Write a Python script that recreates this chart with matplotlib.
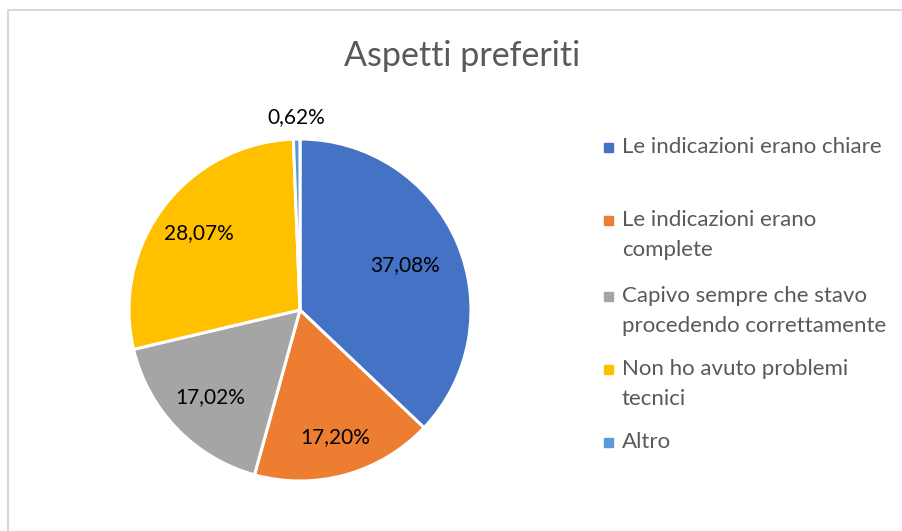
import numpy as np
import matplotlib.pyplot as plt
from matplotlib.patches import Rectangle

categories = [
    "Le indicazioni erano chiare",
    "Le indicazioni erano\ncomplete",
    "Capivo sempre che stavo\nprocedendo correttamente",
    "Non ho avuto problemi\ntecnici",
    "Altro",
]
shares = [37.08, 17.20, 17.02, 28.07, 0.62]
title = "Aspetti preferiti"

colors = ["#4472C4", "#ED7D31", "#A5A5A5", "#FFC000", "#5B9BD5"]
label_dist = [0.67, 0.77, 0.73, 0.74, 1.13]

plt.rcParams['font.family'] = ['Lato', 'DejaVu Sans']

W, H = 903, 531
fig = plt.figure(figsize=(W / 100, H / 100), dpi=100)
ax = fig.add_axes([0, 0, 1, 1])
ax.axis('off')

# chart frame (only top and left visible in the crop)
ax.plot([8, 8, W + 5], [-5, H - 10, H - 10], color="#d9d9d9", lw=1.5, clip_on=False)

cx, cy, r = 300, H - 310, 171
wedges, _ = ax.pie(shares, colors=colors, startangle=90, counterclock=False,
                   center=(cx, cy), radius=r,
                   wedgeprops=dict(edgecolor="white", linewidth=2.2))
ax.set_xlim(0, W)
ax.set_ylim(0, H)
ax.set_aspect('equal')

for w, val, d in zip(wedges, shares, label_dist):
    ang = np.deg2rad((w.theta1 + w.theta2) / 2)
    x = cx + d * r * np.cos(ang)
    y = cy + d * r * np.sin(ang)
    ax.text(x, y, f"{val:.2f}%".replace(".", ","), ha='center', va='center',
            fontsize=15, color="#000000")

ax.text(462, H - 56, title, ha='center', va='center', fontsize=24.5, color="#595959")

# legend
legend_y = [147, 220, 296, 369, 442]
for lab, col, ly in zip(categories, colors, legend_y):
    ax.add_patch(Rectangle((604, H - ly - 4.5), 9, 9, color=col))
    ax.text(622, H - ly + 10, lab, ha='left', va='top', fontsize=16,
            color="#595959", linespacing=1.65)

fig.savefig("out.png", dpi=100)
